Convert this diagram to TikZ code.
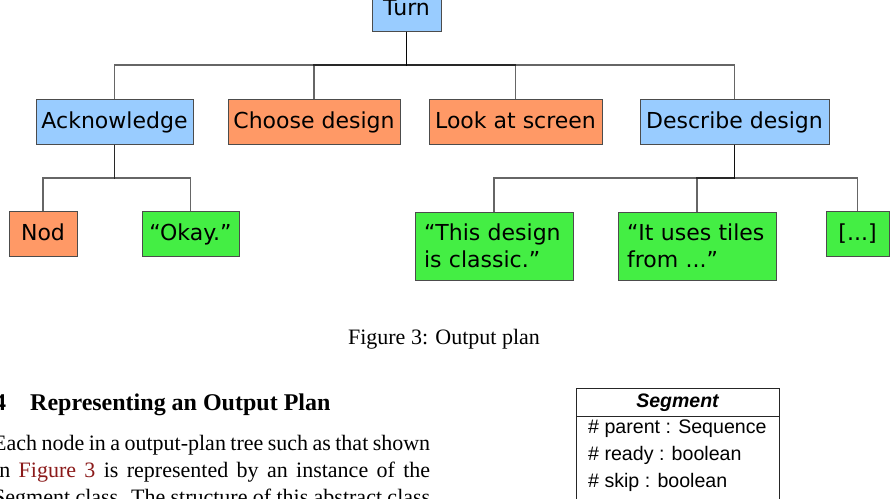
\documentclass[tikz,border=0pt]{standalone}
\usepackage{fontspec}
\setmainfont{Liberation Serif}
\newfontfamily\dvs{DejaVu Sans}
\newfontfamily\lsans{Liberation Sans}
\definecolor{bluebox}{HTML}{99CCFF}
\definecolor{orangebox}{HTML}{FF9966}
\definecolor{greenbox}{HTML}{44EE44}
\definecolor{linkred}{HTML}{8B1A1A}
\begin{document}
\begin{tikzpicture}[x=1pt,y=-1pt,
  treefont/.style={font=\dvs\fontsize{22}{27}\selectfont},
  box/.style={treefont, draw=black!70, line width=1pt, minimum height=45pt,
    inner sep=0pt, text height=15pt, text depth=2pt},
  mbox/.style={treefont, draw=black!70, line width=1pt, align=left,
    text width=140pt, inner xsep=9pt, inner ysep=12pt, minimum height=67.5pt, anchor=north},
  blue/.style={fill=bluebox}, orange/.style={fill=orangebox}, green/.style={fill=greenbox},
  edge/.style={draw=black, draw opacity=0.6, line width=1.2pt},
  bodytext/.style={font=\fontsize{22}{27}\selectfont, inner sep=0pt, anchor=base west},
  umltext/.style={font=\lsans\fontsize{19.6}{27}\selectfont, inner sep=0pt, anchor=base west}]
\clip (0,0) rectangle (890,498);
\fill[white] (0,0) rectangle (890,498);
% tree nodes
\node[box, blue, minimum width=69pt] (turn) at (406.5,8.5) {Turn};
\node[box, blue, minimum width=157pt] (ack) at (114.5,121.5) {Acknowledge};
\node[box, orange, minimum width=172pt] (choose) at (314,121.5) {Choose design};
\node[box, orange, minimum width=173pt] (look) at (515.5,121.5) {Look at screen};
\node[box, blue, minimum width=189pt] (desc) at (734.5,121.5) {Describe design};
\node[box, orange, minimum width=68pt] (nod) at (43,234) {Nod};
\node[box, green, minimum width=97pt] (okay) at (190.5,234) {“Okay.”};
\node[mbox, green] (thisd) at (494,211.5) {“This design\\is classic.”};
\node[mbox, green] (tiles) at (697,211.5) {“It uses tiles\\from ...”};
\node[box, green, minimum width=63pt] (dots) at (857.5,234) {[...]};
% connectors
\coordinate (lvA) at (0,65);
\coordinate (lvB) at (0,178);
\foreach \c in {ack,choose,look,desc}
  \draw[edge] (turn.south) -- (turn.south |- lvA) -| (\c.north);
\foreach \c in {nod,okay}
  \draw[edge] (ack.south) -- (ack.south |- lvB) -| (\c.north);
\foreach \c in {thisd,tiles,dots}
  \draw[edge] (desc.south) -- (desc.south |- lvB) -| (\c.north);
% caption
\node[font=\fontsize{22}{27}\selectfont, inner sep=0pt, anchor=base] (cap) at (444,344) {Figure 3: Output plan};
% section heading
\node[bodytext, font=\bfseries\fontsize{24}{29}\selectfont] (secnum) at (-6,410) {4};
\node[bodytext, font=\bfseries\fontsize{24}{29}\selectfont] (sectitle) at (30,410) {Representing an Output Plan};
% paragraph
\node[bodytext] (p1) at (-7,450) {\makebox[437pt][s]{Each node in a output-plan tree such as that shown}};
\node[bodytext] (p2) at (-7,477) {\makebox[437pt][s]{in \textcolor{linkred}{Figure 3} is represented by an instance of the}};
\node[bodytext] (p3) at (-7,504) {\makebox[437pt][s]{Segment class. The structure of this abstract class}};
% UML class box
\node[draw=black!85, line width=1pt, minimum width=203pt, minimum height=150pt,
  anchor=north west, inner sep=0pt] (seg) at (576,388) {};
\draw[draw=black!85, line width=1pt] (seg.west |- 0,416) -- (seg.east |- 0,416);
\node[font=\lsans\bfseries\itshape\fontsize{19.5}{24}\selectfont, inner sep=0pt, anchor=base] (segname) at (677.5,407) {Segment};
\node[umltext] (attA) at (588,433) {\# parent : Sequence};
\node[umltext] (attB) at (588,460) {\# ready : boolean};
\node[umltext] (attC) at (588,487) {\# skip : boolean};
\end{tikzpicture}
\end{document}
